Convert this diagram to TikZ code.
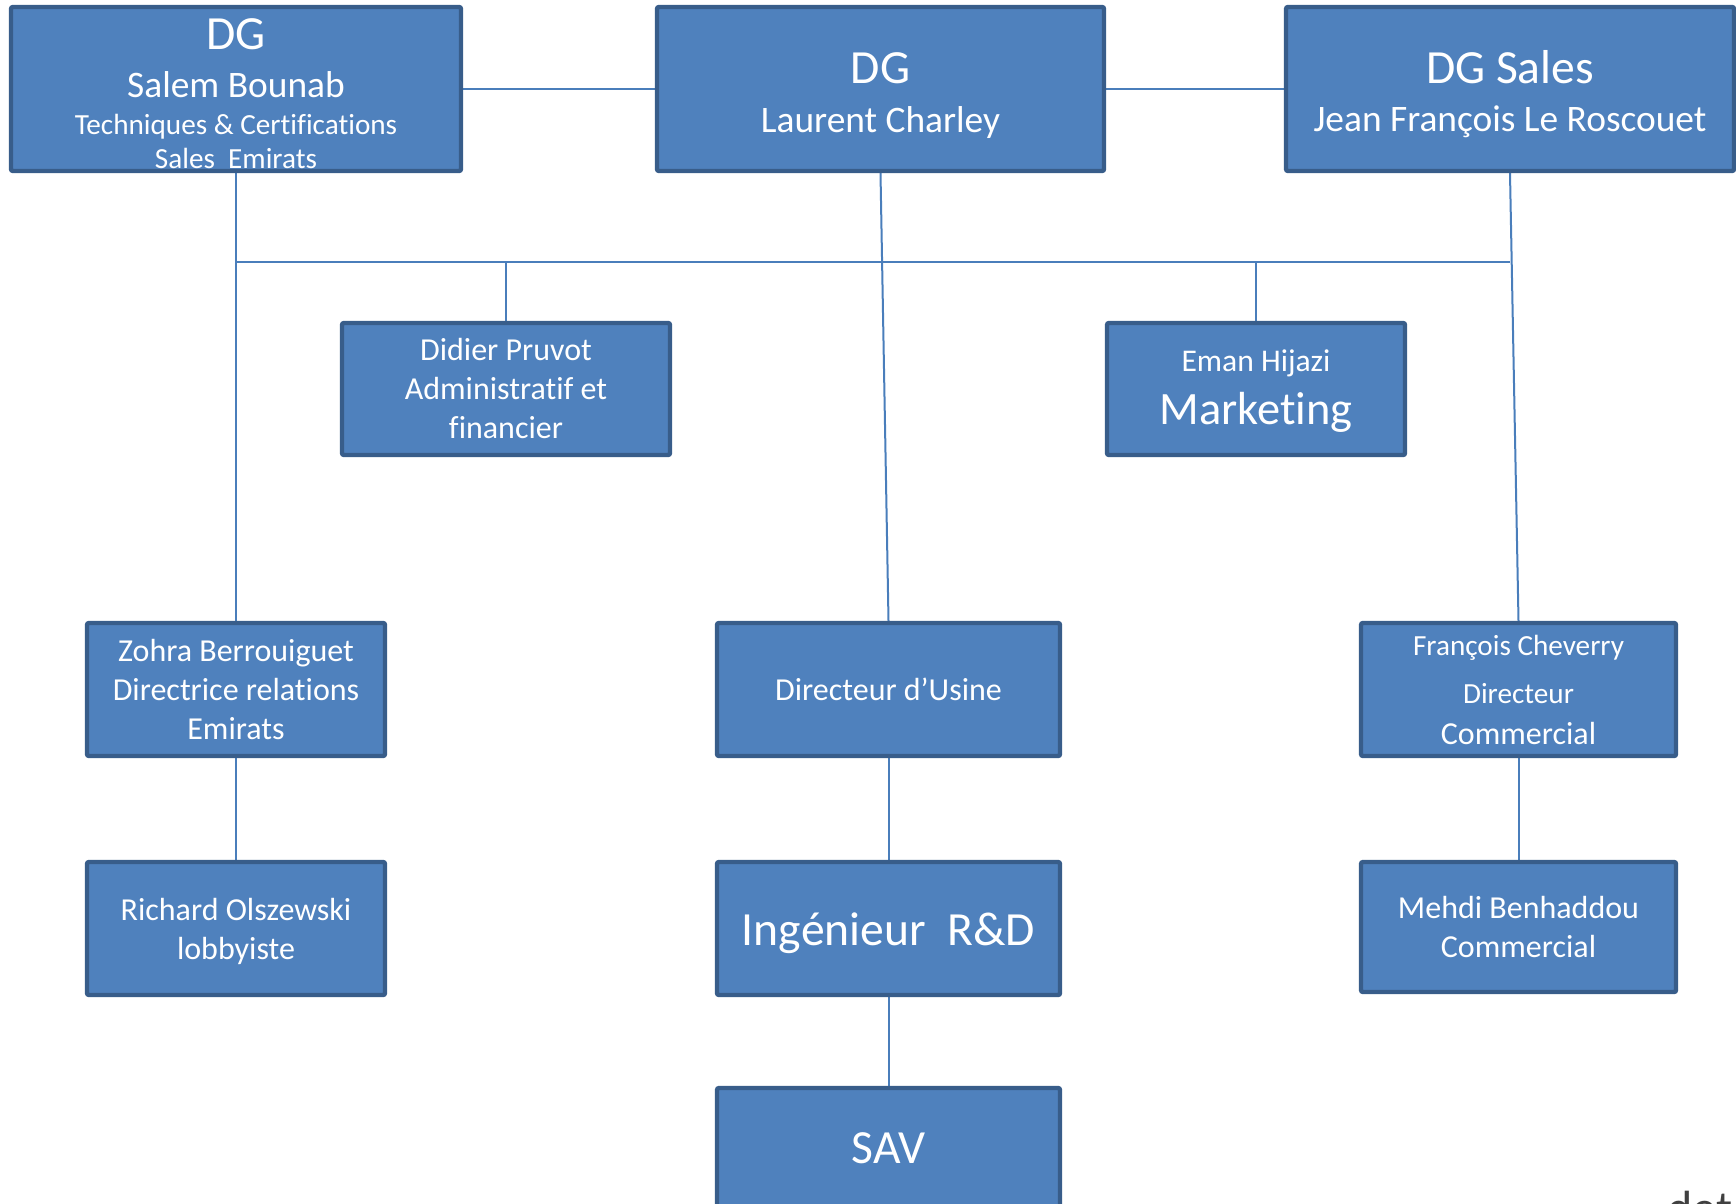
\documentclass[tikz,border=0pt]{standalone}
\usepackage{fontspec}
\setmainfont{Carlito}[Ligatures=NoCommon]
\usetikzlibrary{backgrounds}

\newlength{\du}
\setlength{\du}{0.5pt}

\definecolor{boxfill}{RGB}{79,129,189}
\definecolor{boxline}{RGB}{56,93,138}
\definecolor{linkcolor}{RGB}{74,126,187}
\definecolor{cuttext}{RGB}{64,64,64}

\newcommand{\titlesize}{\fontsize{23.8}{28}\selectfont}
\newcommand{\namesize}{\fontsize{18.7}{22}\selectfont}
\newcommand{\smallsize}{\fontsize{14.6}{17}\selectfont}
\newcommand{\marksize}{\fontsize{23.2}{27}\selectfont}

\tikzset{
  unit/.style={draw=boxline, fill=boxfill, line width=2.2pt, rounded corners=1pt,
    text=white, align=center, inner sep=0pt,
    font=\fontsize{16}{19.5}\selectfont},
  link/.style={draw=linkcolor, line width=1pt},
}

\begin{document}
\begin{tikzpicture}
\pgftransformxscale{1.000000}
\pgftransformyscale{-1.000000}
\useasboundingbox (0\du,0\du) rectangle (1736\du,1204\du);
% top row
\node[unit, minimum width=450\du, minimum height=164\du, font=\smallsize] (salem) at (236\du,89\du)
  {{\titlesize\rule{0pt}{19.7pt}DG}\\[7pt]{\namesize Salem Bounab}\\[1.5pt]Techniques \& Certifications\\Sales\ \ Emirats};
\node[unit, minimum width=447\du, minimum height=164\du, font=\namesize] (laurent) at (880.5\du,89\du)
  {{\titlesize\rule{0pt}{22pt}DG}\\[2.1pt]Laurent Charley};
\node[unit, minimum width=448\du, minimum height=164\du, font=\namesize] (sales) at (1510\du,89\du)
  {{\titlesize\rule{0pt}{22pt}DG Sales}\\[2.1pt]Jean François Le Roscouet};
% second row
\node[unit, minimum width=328\du, minimum height=132\du] (didier) at (506\du,389\du)
  {Didier Pruvot\\Administratif et\\financier};
\node[unit, minimum width=298\du, minimum height=132\du, font=\fontsize{15.8}{17}\selectfont] (eman) at (1256\du,389\du)
  {\rule{0pt}{13pt}Eman Hijazi\\[6.7pt]{\marksize Marketing}};
% third row
\node[unit, minimum width=298\du, minimum height=133\du] (zohra) at (236\du,689.5\du)
  {Zohra Berrouiguet\\Directrice relations\\Emirats};
\node[unit, minimum width=343\du, minimum height=133\du] (usine) at (888.5\du,689.5\du)
  {Directeur d’Usine};
\node[unit, minimum width=315\du, minimum height=133\du, font=\smallsize] (cheverry) at (1518.5\du,689.5\du)
  {François Cheverry\\[7pt]Directeur\\[3.5pt]{\fontsize{16}{19.5}\selectfont Commercial}};
% fourth row
\node[unit, minimum width=298\du, minimum height=133\du] (richard) at (236\du,928.5\du)
  {\rule{0pt}{14pt}Richard Olszewski\\lobbyiste};
\node[unit, minimum width=343\du, minimum height=133\du, font=\titlesize, text height=16.5pt, text depth=0pt] (inge) at (888.5\du,928.5\du)
  {Ingénieur\ \ R\&D};
\node[unit, minimum width=315\du, minimum height=130\du] (mehdi) at (1518.5\du,927\du)
  {Mehdi Benhaddou\\Commercial};
\node[unit, minimum width=343\du, minimum height=133\du, font=\titlesize, text height=8.5pt, text depth=0pt] (sav) at (888.5\du,1154.5\du)
  {SAV};
% cut off at the page edge
\node[anchor=north west, inner sep=0pt, text=cuttext, font=\fontsize{24}{29}\selectfont] (cut) at (1667\du,1191\du) {det};

\begin{scope}[on background layer]
\coordinate (busL) at (236\du,262\du);
\coordinate (busR) at (1510\du,262\du);
\draw[link] (salem.east) -- (laurent.west);
\draw[link] (laurent.east) -- (sales.west);
\draw[link] (busL) -- (busR);
\draw[link] (salem.south) -- (zohra.north);
\draw[link] (didier.north) -- (didier.north |- busL);
\draw[link] (eman.north) -- (eman.north |- busL);
\draw[link] (laurent.south) -- (usine.north);
\draw[link] (sales.south) -- (cheverry.north);
\draw[link] (zohra.south) -- (richard.north);
\draw[link] (usine.south) -- (inge.north);
\draw[link] (inge.south) -- (sav.north);
\draw[link] (cheverry.south) -- (mehdi.north);
\end{scope}
\end{tikzpicture}
\end{document}
